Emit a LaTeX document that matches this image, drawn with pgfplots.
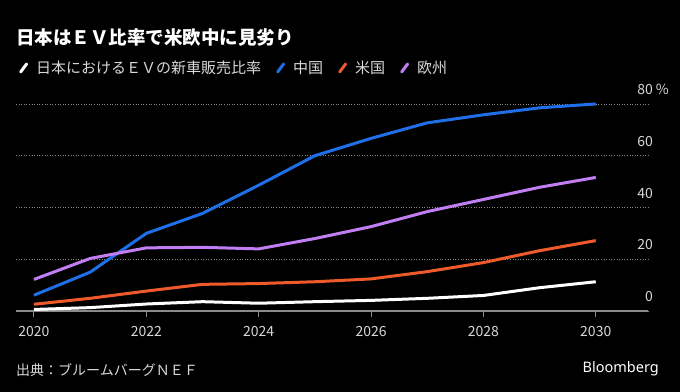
\documentclass[border=0pt]{standalone}
\usepackage{fontspec}
\setmainfont{Noto Sans CJK JP}
\newfontfamily\latinsans{Noto Sans}
\usepackage{pgfplots}
\pgfplotsset{compat=1.18}
\definecolor{cnblue}{HTML}{1F6FE8}
\definecolor{usorange}{HTML}{EE5A2A}
\definecolor{eupurple}{HTML}{C07EF2}
\definecolor{txtgray}{HTML}{D8D8D8}
\definecolor{axgray}{HTML}{8A8A8A}
\begin{document}
\begin{tikzpicture}
\fill[black] (0,0) rectangle (680bp,392bp);
\useasboundingbox (0,0) rectangle (680bp,392bp);
\begin{axis}[
  at={(16bp,81bp)}, anchor=south west, scale only axis,
  width=632bp, height=220bp,
  xmin=2019.68, xmax=2030.93, ymin=0, ymax=85,
  separate axis lines,
  axis x line*=bottom, axis y line*=right,
  x axis line style={axgray, line width=1.2bp},
  y axis line style={draw=none},
  xtick={2020,2022,...,2030},
  xtick style={axgray, line width=1bp},
  major tick length=6bp, tick align=outside,
  ytick={0,20,40,60,80},
  yticklabels={0,20,40,60,{80\rlap{ \%}}},
  ytick style={draw=none},
  ymajorgrids,
  grid style={axgray, line width=0.8bp, dash pattern=on 1bp off 1.6bp},
  /pgf/number format/assume math mode=true,
  xticklabel style={/pgf/number format/1000 sep={}, yshift=-6bp, font=\fontsize{14bp}{16bp}\selectfont, text=txtgray},
  yticklabel style={anchor=south east, inner sep=0pt, xshift=-1bp, yshift=9bp, font=\fontsize{14bp}{16bp}\selectfont, text=txtgray},
  legend style={at={(0,1.105)}, anchor=west, draw=none, fill=none, legend columns=-1,
    text=txtgray, font=\fontsize{15bp}{17bp}\selectfont,
    /tikz/every odd column/.append style={column sep=6bp},
    /tikz/every even column/.append style={column sep=13bp}},
  legend image code/.code={\draw[#1, line width=3bp, line cap=round] (0bp,-4bp) -- (6bp,4bp);},
  every axis plot/.append style={line width=3bp, line join=round},
]
\addplot[white] coordinates {(2020,0.6) (2021,1.3) (2022,2.7) (2023,3.6) (2024,3.0) (2025,3.6) (2026,4.1) (2027,4.9) (2028,6.0) (2029,9.0) (2030,11.3)};
\addlegendentry{日本におけるＥＶの新車販売比率}
\addplot[cnblue] coordinates {(2020,6.1) (2021,15) (2022,30) (2023,37.7) (2024,48.6) (2025,60) (2026,66.7) (2027,72.7) (2028,75.8) (2029,78.5) (2030,80)};
\addlegendentry{中国}
\addplot[usorange] coordinates {(2020,2.6) (2021,4.9) (2022,7.7) (2023,10.3) (2024,10.6) (2025,11.3) (2026,12.4) (2027,15.2) (2028,18.7) (2029,23.3) (2030,27.2)};
\addlegendentry{米国}
\addplot[eupurple] coordinates {(2020,12.2) (2021,20.3) (2022,24.4) (2023,24.6) (2024,24.0) (2025,28.0) (2026,32.6) (2027,38.4) (2028,43.1) (2029,47.8) (2030,51.6)};
\addlegendentry{欧州}
\end{axis}
\node[anchor=west, inner sep=0pt, text=white, font=\fontsize{18.5bp}{20bp}\selectfont\bfseries] at (16bp,354bp) {日本はＥＶ比率で米欧中に見劣り};
\node[anchor=west, inner sep=0pt, text=txtgray, font=\fontsize{14bp}{16bp}\selectfont] at (16bp,22bp) {出典：ブルームバーグＮＥＦ};
\node[anchor=east, inner sep=0pt, text=white, font=\latinsans\fontsize{14.5bp}{16bp}\selectfont\bfseries] at (659bp,23bp) {Bloomberg};
\end{tikzpicture}
\end{document}
